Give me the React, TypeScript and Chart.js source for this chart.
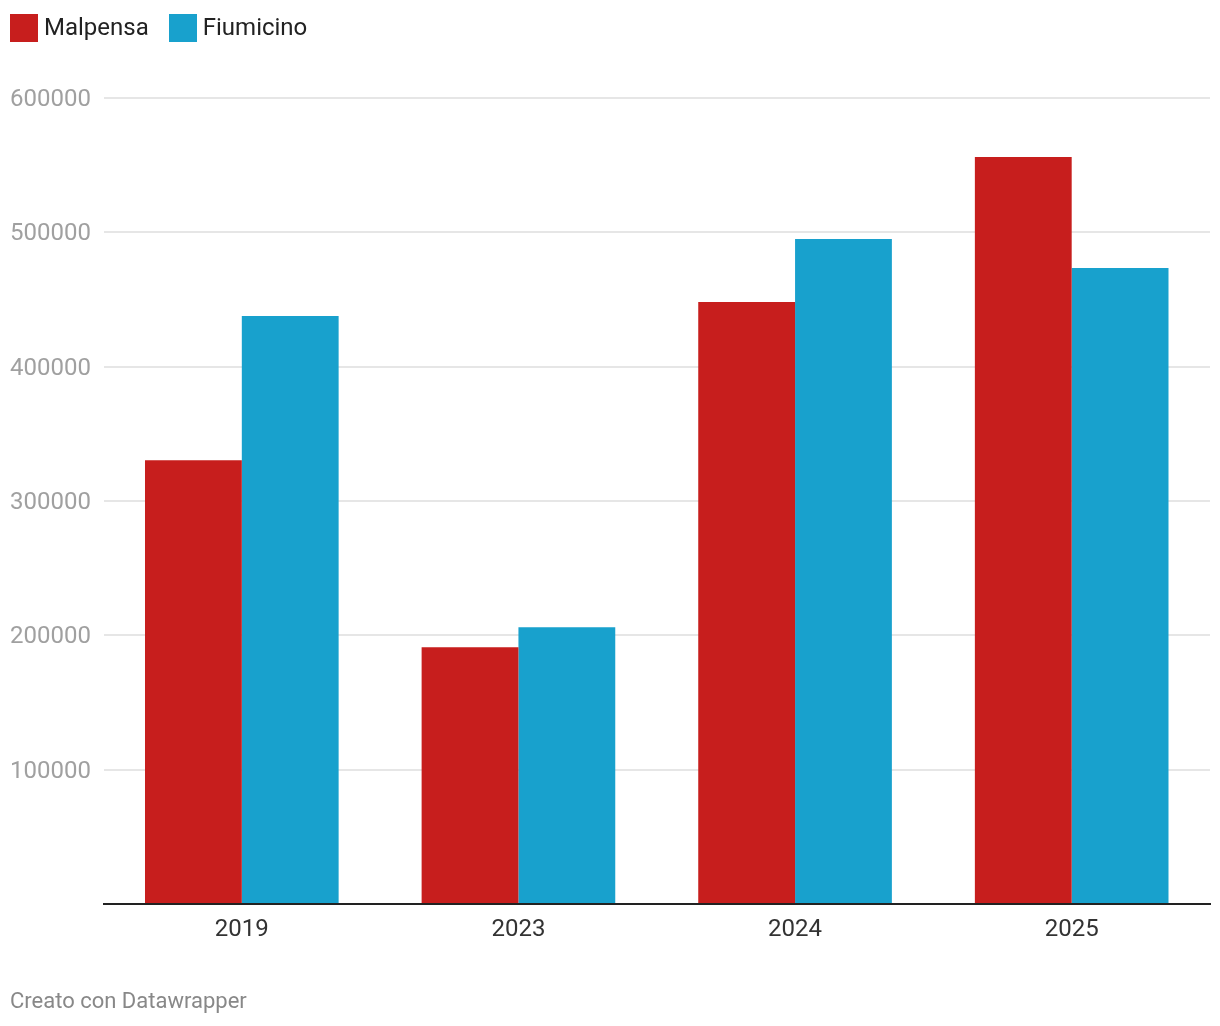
import React, { useEffect, useRef } from "react";
import { Chart, registerables } from "chart.js";

Chart.register(...registerables);

const categories = ["2019", "2023", "2024", "2025"];
const malpensa = [330400, 191200, 448100, 556100];
const fiumicino = [437700, 206100, 495000, 473400];
const seriesNames = ["Malpensa", "Fiumicino"];
const seriesColors = ["#c71e1d", "#18a1cd"];
const yTicks = [0, 100000, 200000, 300000, 400000, 500000, 600000];
const footerText = "Creato con Datawrapper";

export default function App() {
  const canvasRef = useRef<HTMLCanvasElement | null>(null);

  useEffect(() => {
    if (!canvasRef.current) return;
    const chart = new Chart(canvasRef.current, {
      type: "bar",
      data: {
        labels: categories,
        datasets: [
          { label: seriesNames[0], data: malpensa, backgroundColor: seriesColors[0], borderWidth: 0 },
          { label: seriesNames[1], data: fiumicino, backgroundColor: seriesColors[1], borderWidth: 0 },
        ],
      },
      options: {
        animation: false,
        responsive: false,
        maintainAspectRatio: false,
        devicePixelRatio: 1,
        datasets: { bar: { categoryPercentage: 0.7, barPercentage: 1.0 } },
        layout: { padding: { top: 90, left: 2, right: 2, bottom: 64 } },
        plugins: {
          legend: { display: false },
          tooltip: { enabled: false },
          title: { display: false },
        },
        scales: {
          x: {
            grid: { display: false, drawTicks: false },
            border: { display: true, color: "#222222", width: 2 },
            ticks: {
              color: "#333333",
              font: { family: "Roboto", size: 24 },
              padding: 12,
            },
            afterFit: (s: any) => {
              s.height = 50;
            },
          },
          y: {
            min: yTicks[0],
            max: yTicks[yTicks.length - 1],
            afterBuildTicks: (s: any) => {
              s.ticks = yTicks.map((v) => ({ value: v }));
            },
            grid: { color: "#e6e6e6", lineWidth: 2, drawTicks: false },
            border: { display: false },
            ticks: {
              color: "#a0a0a0",
              font: { family: "Roboto", size: 24 },
              crossAlign: "far",
              padding: 0,
              labelOffset: 2,
              callback: (v: any) => (Number(v) === 0 ? "" : String(v)),
            },
            afterFit: (s: any) => {
              s.width = 93.5;
            },
          },
        },
      },
    });
    return () => chart.destroy();
  }, []);

  return (
    <div style={{ position: "relative", width: 1204, height: 1010, fontFamily: "Roboto" }}>
      <div
        style={{
          position: "absolute",
          left: 2,
          top: 6,
          display: "flex",
          alignItems: "flex-start",
          fontSize: 24,
          lineHeight: 1,
          color: "#222222",
        }}
      >
        {seriesNames.map((name, i) => (
          <div key={name} style={{ display: "flex", alignItems: "flex-start", marginRight: 20 }}>
            <div style={{ width: 28, height: 28, background: seriesColors[i], marginRight: 6 }} />
            <div style={{ marginTop: 1 }}>{name}</div>
          </div>
        ))}
      </div>
      <canvas ref={canvasRef} width={1204} height={1010} style={{ display: "block" }} />
      <div
        style={{
          position: "absolute",
          left: 2,
          top: 982,
          fontSize: 22,
          lineHeight: 1,
          color: "#888888",
        }}
      >
        {footerText}
      </div>
    </div>
  );
}
